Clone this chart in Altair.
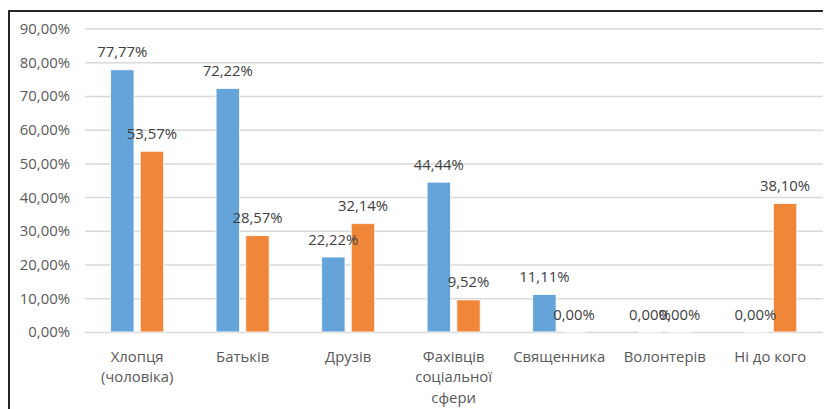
import altair as alt
import pandas as pd

categories = ["Хлопця (чоловіка)", "Батьків", "Друзів", "Фахівців соціальної сфери",
              "Священника", "Волонтерів", "Ні до кого"]
series_names = ["Ряд 1", "Ряд 2"]
series1 = [77.77, 72.22, 22.22, 44.44, 11.11, 0.00, 0.00]
series2 = [53.57, 28.57, 32.14, 9.52, 0.00, 0.00, 38.10]
y_ticks = [0, 10, 20, 30, 40, 50, 60, 70, 80, 90]
colors = ["#65A3DB", "#EF8638"]

rows = []
for i, c in enumerate(categories):
    rows.append({"cat": c, "series": series_names[0], "value": series1[i] / 100})
    rows.append({"cat": c, "series": series_names[1], "value": series2[i] / 100})
df = pd.DataFrame(rows)

FONT = "Open Sans"
W, H = 745, 306

x = alt.X("cat:N", sort=categories, title=None,
          scale=alt.Scale(paddingInner=0.497, paddingOuter=0.2485),
          axis=alt.Axis(labelAngle=0, domain=False, ticks=False, tickSize=0,
                        labelPadding=17.5, labelFontSize=15, labelColor="#595959",
                        labelFont=FONT, labelLineHeight=21, labelLimit=200,
                        labelExpr="length(datum.label) > 12 ? split(datum.label, ' ') : datum.label"))
xo = alt.XOffset("series:N", sort=series_names,
                 scale=alt.Scale(paddingInner=0.21, paddingOuter=0))
y = alt.Y("value:Q", title=None,
          scale=alt.Scale(domain=[0, 0.9], nice=False),
          axis=alt.Axis(values=[v / 100 for v in y_ticks], domain=False, ticks=False,
                        tickSize=0, labelPadding=15, labelFontSize=15,
                        labelColor="#595959", labelFont=FONT,
                        gridColor="#D9D9D9", gridWidth=1.5,
                        labelExpr="replace(format(datum.value, '.2%'), '.', ',')"))
color = alt.Color("series:N", scale=alt.Scale(domain=series_names, range=colors), legend=None)

base = alt.Chart(df)
bars = base.mark_bar(stroke="white", strokeWidth=0.8).encode(x=x, xOffset=xo, y=y, color=color)
labels = base.mark_text(baseline="alphabetic", dy=-12.5, fontSize=15, color="#404040",
                        font=FONT).encode(
    x=x, xOffset=xo, y=y,
    text=alt.Text("lbl:N")
).transform_calculate(lbl="replace(format(datum.value, '.2%'), '.', ',')")

border_top = alt.Chart(df).mark_rule(color="#262626", strokeWidth=1.5).encode(
    x=alt.value(-76), x2=alt.value(760), y=alt.value(-18))
border_left = alt.Chart(df).mark_rule(color="#262626", strokeWidth=1.5).encode(
    x=alt.value(-76), y=alt.value(-18), y2=alt.value(400))

chart = alt.layer(bars, labels, border_top, border_left).properties(
    width=W, height=H,
    autosize=alt.AutoSizeParams(type="none"),
    padding={"left": 77, "top": 19, "right": 0, "bottom": 76},
    background="white",
).configure_view(stroke=None)

chart.save("out.html", embed_options={"renderer": "svg", "actions": False})
